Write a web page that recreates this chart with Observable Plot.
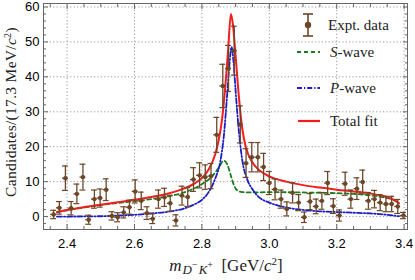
<!DOCTYPE html>
<html><head><meta charset="utf-8">
<script src="https://cdn.jsdelivr.net/npm/d3@7"></script>
<script src="https://cdn.jsdelivr.net/npm/@observablehq/plot@0.6"></script>
<style>
html,body{margin:0;padding:0;background:#fff;}
#chart{position:relative;width:415px;height:280px;}
</style></head><body><div id="chart"></div>
<script>
// ---- data ----
const binWidth = 0.0173; // GeV
const mass = [2.360,2.377,2.395,2.412,2.429,2.447,2.464,2.481,2.498,2.516,2.533,2.550,2.568,2.585,2.602,2.620,2.637,2.654,2.671,2.689,2.706,2.723,2.741,2.758,2.775,2.793,2.810,2.827,2.844,2.862,2.879,2.896,2.914,2.931,2.948,2.966,2.983,3.000,3.017,3.035,3.052,3.069,3.087,3.104,3.121,3.139,3.156,3.173,3.190,3.208,3.225,3.242,3.260,3.277,3.294,3.312,3.329,3.346,3.363,3.381,3.398];
const counts = [0.6,2.5,11.0,2.4,6.5,11.3,-0.9,5.0,5.3,7.7,0.2,-0.2,1.2,2.7,7.2,4.5,1.0,-0.6,5.0,5.5,3.8,-1.1,6.0,5.6,10.6,11.8,11.3,11.6,23.4,37.4,42.4,47.5,26.4,15.3,17.0,17.0,14.2,9.6,7.8,5.0,2.2,6.8,4.0,-0.2,4.3,2.9,4.5,9.6,3.0,0.3,9.4,5.0,8.0,9.9,4.5,5.0,4.0,3.6,3.6,2.9,0.3];
const errors = [1.2,1.8,3.5,1.9,2.8,3.7,1.3,2.6,2.6,3.1,1.2,1.3,1.6,2.0,3.3,2.5,1.8,1.4,2.6,2.6,2.3,1.6,2.7,2.7,3.4,3.6,3.5,3.6,5.0,6.2,6.6,7.0,5.3,4.1,4.2,4.2,3.9,3.3,3.0,2.6,2.0,2.9,2.3,1.5,2.3,2.1,2.4,3.3,2.1,1.6,3.3,2.6,3.1,3.4,2.4,2.5,2.3,2.2,2.2,2.0,0.9];

const totalX = [2.37,2.40,2.45,2.50,2.55,2.60,2.65,2.70,2.74,2.78,2.80,2.82,2.84,2.85,2.86,2.87,2.878,2.886,2.892,2.90,2.91,2.92,2.93,2.95,2.97,3.00,3.05,3.10,3.15,3.20,3.25,3.30,3.34,3.37,3.385];
const totalY = [1.3,1.9,2.7,3.4,4.1,4.8,5.6,6.6,7.8,9.6,11.0,13.5,18.0,22.0,28.0,38.0,48.0,58.0,55.0,46.0,34.0,25.0,20.0,15.5,13.3,11.5,10.0,9.0,8.3,7.7,7.2,6.6,5.8,4.8,3.8];
const sWaveX = [2.37,2.45,2.50,2.55,2.60,2.65,2.70,2.75,2.80,2.83,2.85,2.865,2.875,2.885,2.895,2.905,2.92,2.95,3.00,3.10,3.20,3.25,3.30,3.34,3.37,3.385];
const sWaveY = [1.3,2.6,3.3,3.9,4.4,5.0,5.8,7.0,9.3,11.5,14.0,16.0,15.0,12.0,9.0,7.5,7.0,6.9,7.0,6.9,6.7,6.5,6.1,5.5,4.7,3.8];
const pWaveX = [2.37,2.50,2.55,2.60,2.65,2.70,2.75,2.78,2.80,2.82,2.84,2.855,2.865,2.875,2.882,2.888,2.894,2.90,2.91,2.92,2.935,2.95,2.97,3.00,3.05,3.10,3.15,3.20,3.25,3.30,3.35,3.385];
const pWaveY = [0.0,0.1,0.3,0.5,0.9,1.4,2.4,3.6,4.8,7.0,11.0,16.0,23.0,35.0,44.0,48.5,44.0,36.0,24.0,16.0,10.5,7.8,5.5,4.0,2.6,1.9,1.5,1.3,1.1,0.9,0.5,0.1];

const xMajor = [2.4,2.6,2.8,3.0,3.2,3.4];
const xMinor = [2.35,2.45,2.5,2.55,2.65,2.7,2.75,2.85,2.9,2.95,3.05,3.1,3.15,3.25,3.3,3.35];
const yMajor = [0,10,20,30,40,50,60];
const yMinor = [-2,2,4,6,8,12,14,16,18,22,24,26,28,32,34,36,38,42,44,46,48,52,54,56,58];
const legendLabels = ["Expt. data", "S", "P", "Total fit"];

// ---- styles ----
const brown = "#6b4727", red = "#f21d1d", green = "#1c7d1c", blue = "#1c1cc4", frameColor = "#666";
const half = binWidth / 2;
const pts = mass.map((m, i) => ({m, v: counts[i], e: errors[i]}));
const series = (xs, ys) => xs.map((x, i) => ({x, y: ys[i]}));

const tickMarks = (anchor, ticks, size) =>
  (anchor === "bottom" || anchor === "top")
    ? Plot.axisX({ticks, anchor, tickSize: size, fill: "none", label: null, stroke: frameColor})
    : Plot.axisY({ticks, anchor, tickSize: size, fill: "none", label: null, stroke: frameColor});

const plot = Plot.plot({
  width: 415, height: 280,
  marginLeft: 43, marginRight: 8, marginTop: 3, marginBottom: 51,
  x: {domain: [2.33, 3.41]},
  y: {domain: [-3.7, 61]},
  style: {fontFamily: "'Liberation Sans', Arial, sans-serif", fontSize: "13px", color: "#000", background: "#fff", overflow: "visible"},
  marks: [
    Plot.gridX({ticks: xMajor, stroke: "#9a9a9a", strokeOpacity: 1, strokeDasharray: "1.2,2.2"}),
    Plot.gridY({ticks: yMajor, stroke: "#9a9a9a", strokeOpacity: 1, strokeDasharray: "1.2,2.2"}),
    Plot.line(series(sWaveX, sWaveY), {x: "x", y: "y", stroke: green, strokeWidth: 1.8, strokeDasharray: "4,3", curve: "monotone-x"}),
    Plot.line(series(pWaveX, pWaveY), {x: "x", y: "y", stroke: blue, strokeWidth: 1.8, strokeDasharray: "5,2,1.2,2", curve: "monotone-x"}),
    Plot.line(series(totalX, totalY), {x: "x", y: "y", stroke: red, strokeWidth: 2, curve: "monotone-x"}),
    Plot.ruleX(pts, {x: "m", y1: d => d.v - d.e, y2: d => d.v + d.e, stroke: brown, strokeWidth: 1.3}),
    Plot.ruleY(pts, {y: "v", x1: d => d.m - half, x2: d => d.m + half, stroke: brown, strokeWidth: 1.3}),
    Plot.ruleY(pts, {y: d => d.v + d.e, x1: d => d.m - half, x2: d => d.m + half, stroke: brown, strokeWidth: 1.2}),
    Plot.ruleY(pts, {y: d => d.v - d.e, x1: d => d.m - half, x2: d => d.m + half, stroke: brown, strokeWidth: 1.2}),
    Plot.dot(pts, {x: "m", y: "v", r: 2.2, fill: brown}),
    Plot.frame({stroke: frameColor}),
    tickMarks("bottom", xMajor, -5), tickMarks("bottom", xMinor, -3),
    tickMarks("top", xMajor, -5), tickMarks("top", xMinor, -3),
    tickMarks("left", yMajor, -5), tickMarks("left", yMinor, -3),
    tickMarks("right", yMajor, -5), tickMarks("right", yMinor, -3),
    Plot.axisX({ticks: xMajor, anchor: "bottom", tickSize: 0, tickPadding: 9, label: null, tickFormat: d => d.toFixed(1)}),
    Plot.axisY({ticks: yMajor, anchor: "left", tickSize: 0, tickPadding: 4, label: null})
  ]
});
document.getElementById("chart").appendChild(plot);

// ---- rich-text labels and legend ----
const svg = d3.select(plot);
const serif = "'Liberation Serif', 'Times New Roman', serif";
function rich(g, parts) {
  for (const p of parts) {
    const t = g.append("tspan").text(p.t);
    if (p.i) t.attr("font-style", "italic");
    if (p.s) t.attr("font-size", p.s);
    if (p.dy) t.attr("dy", p.dy);
    if (p.dx) t.attr("dx", p.dx);
  }
}
// y label
const yl = svg.append("text").attr("transform", "translate(16,112) rotate(-90)")
  .attr("text-anchor", "middle").attr("font-family", serif).attr("font-size", 15.5)
  .attr("letter-spacing", 0.3).attr("fill", "#222");
rich(yl, [{t: "Candidates/(17.3 MeV/"}, {t: "c", i: 1}, {t: "2", s: 10, dy: -5}, {t: ")", s: 15.5, dy: 5}]);
// x label
const xl = svg.append("text").attr("x", 226).attr("y", 271)
  .attr("text-anchor", "middle").attr("font-family", serif).attr("font-size", 17).attr("fill", "#222");
rich(xl, [{t: "m", i: 1}, {t: "D", i: 1, s: 13, dy: 3, dx: 1}, {t: "−", s: 10, dy: -6}, {t: "K", i: 1, s: 13, dy: 6, dx: 1}, {t: "+", s: 10, dy: -6},
          {t: "  [GeV/", s: 17, dy: 3}, {t: "c", i: 1}, {t: "2", s: 11, dy: -6}, {t: "]", s: 17, dy: 6}]);

// legend
const lg = svg.append("g").attr("font-family", serif).attr("font-size", 15).attr("fill", "#222").attr("text-anchor", "start");
lg.append("line").attr("x1", 308).attr("x2", 308).attr("y1", 14).attr("y2", 36).attr("stroke", brown).attr("stroke-width", 1.6);
lg.append("line").attr("x1", 303).attr("x2", 313).attr("y1", 14).attr("y2", 14).attr("stroke", brown).attr("stroke-width", 1.6);
lg.append("line").attr("x1", 303).attr("x2", 313).attr("y1", 36).attr("y2", 36).attr("stroke", brown).attr("stroke-width", 1.6);
lg.append("circle").attr("cx", 308).attr("cy", 25).attr("r", 3.2).attr("fill", brown);
lg.append("line").attr("x1", 297).attr("x2", 320).attr("y1", 52).attr("y2", 52).attr("stroke", green).attr("stroke-width", 1.8).attr("stroke-dasharray", "4,3");
lg.append("line").attr("x1", 297).attr("x2", 320).attr("y1", 88).attr("y2", 88).attr("stroke", blue).attr("stroke-width", 1.8).attr("stroke-dasharray", "5,2,1.2,2");
lg.append("line").attr("x1", 298).attr("x2", 320).attr("y1", 121).attr("y2", 121).attr("stroke", red).attr("stroke-width", 2.2);
lg.append("text").attr("x", 328).attr("y", 30).text(legendLabels[0]);
rich(lg.append("text").attr("x", 330).attr("y", 57), [{t: legendLabels[1], i: 1}, {t: "-wave"}]);
rich(lg.append("text").attr("x", 330).attr("y", 93), [{t: legendLabels[2], i: 1}, {t: "-wave"}]);
lg.append("text").attr("x", 330).attr("y", 126).text(legendLabels[3]);
</script></body></html>
